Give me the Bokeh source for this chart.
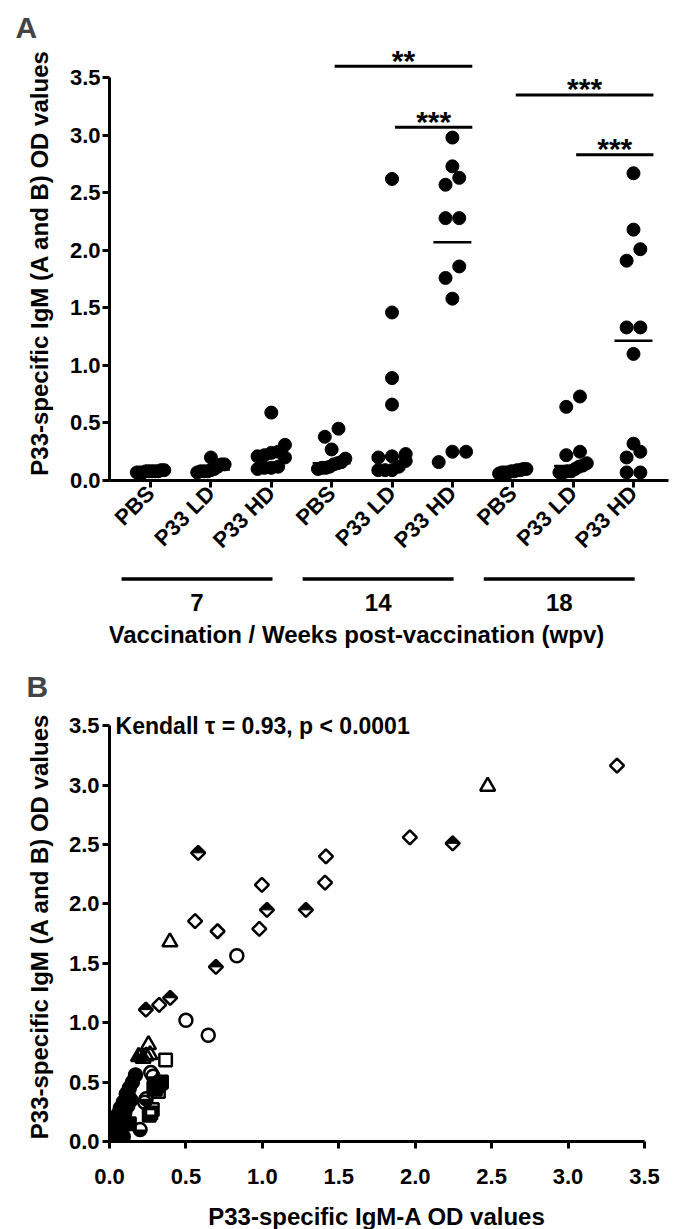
import math
import numpy as np
from bokeh.plotting import figure
from bokeh.layouts import column
from bokeh.models import Range1d, FixedTicker, NumeralTickFormatter
from bokeh.core.properties import value
from bokeh.embed import file_html
from bokeh.resources import INLINE

FONT = "Liberation Sans"

# ---------------- Panel A data (OD values per group) ----------------
treatments = ["PBS", "P33 LD", "P33 HD"]
weeks = ["7", "14", "18"]
wk7_pbs = [0.07, 0.08, 0.08, 0.09, 0.07, 0.08, 0.09, 0.08, 0.07, 0.08]
wk7_ld = [0.20, 0.14, 0.14, 0.12, 0.10, 0.09, 0.08, 0.08, 0.08, 0.07]
wk7_hd = [0.59, 0.31, 0.25, 0.24, 0.22, 0.21, 0.20, 0.12, 0.11, 0.11, 0.10]
wk14_pbs = [0.45, 0.38, 0.27, 0.19, 0.16, 0.15, 0.14, 0.12, 0.11, 0.11, 0.10]
wk14_ld = [2.62, 1.46, 0.89, 0.66, 0.23, 0.21, 0.20, 0.17, 0.12, 0.09, 0.09, 0.09]
wk14_hd = [2.98, 2.73, 2.63, 2.57, 2.28, 2.28, 1.86, 1.76, 1.58, 0.25, 0.25, 0.16]
wk18_pbs = [0.07, 0.08, 0.06, 0.09, 0.10, 0.07, 0.08, 0.07, 0.09, 0.10]
wk18_ld = [0.73, 0.64, 0.25, 0.22, 0.15, 0.13, 0.12, 0.10, 0.08, 0.08, 0.07, 0.07]
wk18_hd = [2.67, 2.18, 2.01, 1.91, 1.33, 1.33, 1.10, 0.32, 0.25, 0.20, 0.07, 0.07]
groups_A = [wk7_pbs, wk7_ld, wk7_hd, wk14_pbs, wk14_ld, wk14_hd, wk18_pbs, wk18_ld, wk18_hd]
tick_labels_A = treatments * 3

# significance comparisons (from category, to category, label, bar level)
sig_from = [4, 5, 7, 8]
sig_to = [6, 6, 9, 9]
sig_text = ["**", "***", "***", "***"]
sig_level = [3.60, 3.07, 3.35, 2.83]

# ---------------- Panel B data (IgM-A OD vs IgM (A and B) OD) ----------------
diamond_open_x = [3.32, 1.965, 1.416, 1.41, 0.997, 0.98, 0.56, 0.707, 0.325]
diamond_open_y = [3.165, 2.56, 2.40, 2.18, 2.16, 1.79, 1.855, 1.77, 1.15]
diamond_half_x = [2.245, 0.58, 1.03, 1.285, 0.696, 0.397, 0.238, 0.12, 0.08]
diamond_half_y = [2.51, 2.43, 1.95, 1.95, 1.47, 1.21, 1.11, 0.40, 0.30]
triangle_open_x = [2.474, 0.395, 0.255, 0.265, 0.22]
triangle_open_y = [2.99, 1.68, 0.815, 0.73, 0.70]
triangle_half_x = [0.19, 0.24, 0.10, 0.06]
triangle_half_y = [0.715, 0.72, 0.35, 0.20]
circle_open_x = [0.833, 0.50, 0.646, 0.27, 0.23]
circle_open_y = [1.564, 1.02, 0.895, 0.58, 0.33]
circle_half_x = [0.285, 0.24, 0.20]
circle_half_y = [0.55, 0.36, 0.10]
circle_fill_x = [0.17, 0.15, 0.13, 0.11, 0.09, 0.07, 0.05, 0.04, 0.03, 0.02, 0.06, 0.08, 0.10, 0.12, 0.14, 0.01, 0.05, 0.09]
circle_fill_y = [0.56, 0.50, 0.45, 0.40, 0.33, 0.28, 0.22, 0.16, 0.10, 0.05, 0.12, 0.18, 0.24, 0.30, 0.35, 0.02, 0.08, 0.04]
square_open_x = [0.367, 0.34, 0.32, 0.28, 0.27]
square_open_y = [0.686, 0.50, 0.42, 0.27, 0.24]
square_half_x = [0.31, 0.30, 0.26]
square_half_y = [0.47, 0.44, 0.22]
square_fill_x = [0.33, 0.29, 0.13, 0.08]
square_fill_y = [0.49, 0.45, 0.15, 0.06]
ticks_B = [0.0, 0.5, 1.0, 1.5, 2.0, 2.5, 3.0, 3.5]
kendall_text = "Kendall \u03c4 = 0.93, p < 0.0001"
y_title = "P33-specific IgM (A and B) OD values"


def style_axis(ax, size="22px"):
    ax.axis_line_width = 3
    ax.major_tick_line_width = 3
    ax.major_tick_out = 7
    ax.major_tick_in = 0
    ax.minor_tick_line_color = None
    ax.major_label_text_font = FONT
    ax.major_label_text_font_style = "bold"
    ax.major_label_text_font_size = size
    ax.major_label_text_color = "black"
    ax.axis_label_text_font = FONT
    ax.axis_label_text_font_style = "bold"
    ax.axis_label_text_font_size = "24px"
    ax.axis_label_text_color = "black"


# ---------------- Panel A ----------------
A_FW, A_FH = 559, 435
xrA = Range1d(0.32, 9.58)
yrA = Range1d(0, 3.78)
pA = figure(frame_width=A_FW, frame_height=A_FH, x_range=xrA, y_range=yrA,
            output_backend="svg", toolbar_location=None,
            min_border_left=109, min_border_right=5, min_border_top=45, min_border_bottom=80)
pA.outline_line_color = None
pA.xgrid.visible = False
pA.ygrid.visible = False
pA.title.text = "A"
pA.title.text_font = FONT
pA.title.text_font_size = "30px"
pA.title.text_font_style = "bold"
pA.title.align = "left"
pA.title.offset = -94
pA.title.standoff = 4

style_axis(pA.yaxis[0])
pA.yaxis.ticker = FixedTicker(ticks=ticks_B)
pA.yaxis.formatter = NumeralTickFormatter(format="0.0")
pA.yaxis.bounds = (0, 3.5)
pA.yaxis.major_label_standoff = 2
pA.yaxis.axis_label = y_title
pA.yaxis.axis_label_standoff = 14

style_axis(pA.xaxis[0])
cats = list(range(1, 10))
pA.xaxis.ticker = FixedTicker(ticks=cats)
pA.xaxis.major_label_overrides = {c: lab for c, lab in zip(cats, tick_labels_A)}
pA.xaxis.major_label_orientation = math.pi / 4
pA.xaxis.major_label_standoff = 2

px_per_cat = A_FW / (xrA.end - xrA.start)
px_per_od = A_FH / (yrA.end - yrA.start)
DIAM = 13
STEP = 13.7


def swarm_offsets(vals):
    vals = np.asarray(vals, dtype=float)
    order = np.argsort(vals, kind="stable")
    offs = np.zeros(len(vals))
    thr = 0.9 * DIAM / px_per_od
    i = 0
    while i < len(order):
        j = i
        while j + 1 < len(order) and vals[order[j + 1]] - vals[order[i]] < thr:
            j += 1
        n = j - i + 1
        step = STEP if n <= 3 else 2 * STEP / (n - 1)
        for k in range(n):
            offs[order[i + k]] = (k - (n - 1) / 2) * step / px_per_cat
        i = j + 1
    return offs


xs, ys = [], []
for c, vals in zip(cats, groups_A):
    offs = swarm_offsets(vals)
    xs.extend(list(c + offs))
    ys.extend(vals)
pA.scatter(xs, ys, size=DIAM, marker="circle", fill_color="black", line_color="black")

med = [float(np.median(v)) for v in groups_A]
half_w = 19 / px_per_cat
pA.segment(x0=[c - half_w for c in cats], x1=[c + half_w for c in cats], y0=med, y1=med,
           line_width=2.5, line_color="black")

bar_x0 = [a + 0.05 for a in sig_from]
bar_x1 = [b + 0.33 for b in sig_to]
pA.segment(x0=bar_x0, x1=bar_x1, y0=sig_level, y1=sig_level, line_width=3, line_color="black")
pA.text(x=[(a + b) / 2 for a, b in zip(bar_x0, bar_x1)], y=sig_level, text=sig_text,
        text_font=value(FONT), text_font_style="bold", text_font_size="30px",
        text_align="center", text_baseline="alphabetic", y_offset=-6, text_color="black")

# ---------------- Group strip (weeks) ----------------
pG = figure(frame_width=A_FW, frame_height=90, x_range=xrA, y_range=Range1d(0, 1),
            output_backend="svg", toolbar_location=None, x_axis_location=None, y_axis_location=None,
            min_border_left=109, min_border_right=5, min_border_top=0, min_border_bottom=0)
pG.outline_line_color = None
pG.xgrid.visible = False
pG.ygrid.visible = False
g_x0 = [cats[3 * i] - 0.48 for i in range(3)]
g_x1 = [cats[3 * i + 2] + 0.02 for i in range(3)]
pG.segment(x0=g_x0, x1=g_x1, y0=[0.84] * 3, y1=[0.84] * 3, line_width=3.5, line_color="black")
pG.text(x=[(a + b) / 2 for a, b in zip(g_x0, g_x1)], y=[0.58] * 3, text=weeks,
        text_font=value(FONT), text_font_style="bold", text_font_size="24px",
        text_align="center", text_baseline="middle", text_color="black")
pG.text(x=[4.41], y=[0.22], text=["Vaccination / Weeks post-vaccination (wpv)"],
        text_font=value(FONT), text_font_style="bold", text_font_size="24px",
        text_align="center", text_baseline="middle", text_color="black")

# ---------------- Panel B ----------------
B_FW, B_FH = 535, 430
xrB = Range1d(0, 3.5)
yrB = Range1d(0, 3.62)
pB = figure(frame_width=B_FW, frame_height=B_FH, x_range=xrB, y_range=yrB,
            output_backend="svg", toolbar_location=None,
            min_border_left=107, min_border_right=31, min_border_top=57, min_border_bottom=92)
pB.outline_line_color = None
pB.xgrid.visible = False
pB.ygrid.visible = False
pB.title.text = "B"
pB.title.text_font = FONT
pB.title.text_font_size = "30px"
pB.title.text_font_style = "bold"
pB.title.align = "left"
pB.title.offset = -83
pB.title.standoff = 17

style_axis(pB.yaxis[0])
pB.yaxis.ticker = FixedTicker(ticks=ticks_B)
pB.yaxis.formatter = NumeralTickFormatter(format="0.0")
pB.yaxis.bounds = (0, 3.5)
pB.yaxis.major_label_standoff = 3
pB.yaxis.axis_label = y_title
pB.yaxis.axis_label_standoff = 13

style_axis(pB.xaxis[0])
pB.xaxis.ticker = FixedTicker(ticks=ticks_B)
pB.xaxis.formatter = NumeralTickFormatter(format="0.0")
pB.xaxis.bounds = (0, 3.5)
pB.xaxis.major_label_standoff = 20
pB.xaxis.axis_label = "P33-specific IgM-A OD values"
pB.xaxis.axis_label_standoff = 16

kx = (xrB.end - xrB.start) / B_FW   # data units per pixel
ky = (yrB.end - yrB.start) / B_FH
LW = 2.5

# fills for half-filled markers
R = 7.0
pB.patches(xs=[[x - R * kx, x + R * kx, x] for x in diamond_half_x],
           ys=[[y, y, y + R * ky] for y in diamond_half_y],
           fill_color="black", line_color="black", line_width=1)
TS = 15.0
tr = TS / 2
th = tr * math.sqrt(3)
pB.patches(xs=[[x, x - tr * kx, x] for x in triangle_half_x],
           ys=[[y + 2 * th / 3 * ky, y - th / 3 * ky, y - th / 3 * ky] for y in triangle_half_y],
           fill_color="black", line_color="black", line_width=1)
pB.wedge(x=circle_half_x, y=circle_half_y, radius=6.5, radius_units="screen",
         start_angle=math.pi, end_angle=2 * math.pi, fill_color="black", line_color=None)
SQ = 12.5
pB.rect(x=square_half_x, y=[y - SQ / 4 * ky for y in square_half_y], width=SQ, height=SQ / 2,
        width_units="screen", height_units="screen", fill_color="black", line_color=None)

# outlines / filled markers
pB.scatter(circle_fill_x, circle_fill_y, marker="circle", size=13, fill_color="black", line_color="black", line_width=LW)
pB.scatter(square_fill_x, square_fill_y, marker="square", size=SQ, fill_color="black", line_color="black", line_width=LW)
pB.scatter(diamond_open_x + diamond_half_x, diamond_open_y + diamond_half_y, marker="square", angle=math.pi / 4,
           size=R * math.sqrt(2), fill_color=None, line_color="black", line_width=LW)
pB.scatter(triangle_open_x + triangle_half_x, triangle_open_y + triangle_half_y, marker="triangle", size=TS,
           fill_color=None, line_color="black", line_width=LW)
pB.scatter(circle_open_x + circle_half_x, circle_open_y + circle_half_y, marker="circle", size=13,
           fill_color=None, line_color="black", line_width=LW)
pB.scatter(square_open_x + square_half_x, square_open_y + square_half_y, marker="square", size=SQ,
           fill_color=None, line_color="black", line_width=LW)

pB.text(x=[0.04], y=[3.5], text=[kendall_text], text_font=value(FONT), text_font_style="bold",
        text_font_size="23px", text_align="left", text_baseline="middle", text_color="black")

layout = column(pA, pG, pB, spacing=0)
open("out.html", "w").write(file_html(layout, INLINE))
